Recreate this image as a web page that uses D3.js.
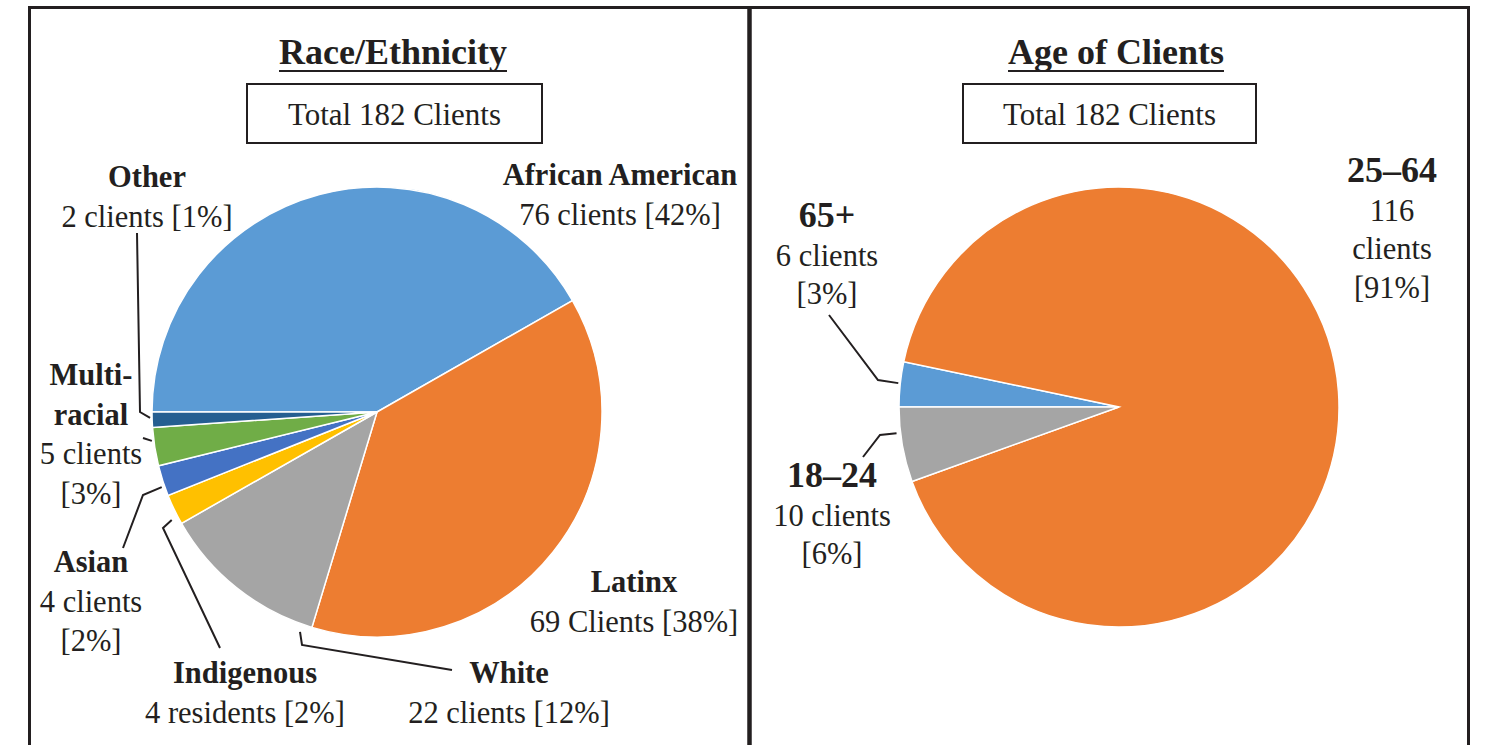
<!DOCTYPE html>
<html>
<head>
<meta charset="utf-8">
<script src="https://cdn.jsdelivr.net/npm/d3@7"></script>
<style>
  body { margin: 0; background: #fff; }
  svg text { font-family: "Liberation Serif", "Times New Roman", serif; fill: #231f20; }
</style>
</head>
<body>
<div id="chart"></div>
<script>
var width = 1489;
var height = 745;
var ink = "#231f20";

// race / ethnicity, clockwise from 9 o'clock
const raceCategories = ["African American", "Latinx", "White", "Indigenous", "Asian", "Multiracial", "Other"];
const raceValues = [76, 69, 22, 4, 4, 5, 2];
const raceNames = [["African American"], ["Latinx"], ["White"], ["Indigenous"], ["Asian"], ["Multi-", "racial"], ["Other"]];
const raceDetails = [["76 clients [42%]"], ["69 Clients [38%]"], ["22 clients [12%]"], ["4 residents [2%]"], ["4 clients", "[2%]"], ["5 clients", "[3%]"], ["2 clients [1%]"]];
const raceColors = ["#5b9bd5", "#ed7d31", "#a5a5a5", "#ffc000", "#4472c4", "#70ad47", "#255e91"];

// age, clockwise from 9 o'clock (slice drawn for 166 although its label reads 116)
const ageCategories = ["65+", "25–64", "18–24"];
const ageValues = [6, 166, 10];
const ageNames = [["65+"], ["25–64"], ["18–24"]];
const ageDetails = [["6 clients", "[3%]"], ["116", "clients", "[91%]"], ["10 clients", "[6%]"]];
const ageColors = ["#5b9bd5", "#ed7d31", "#a5a5a5"];

const totalLabel = "Total 182 Clients";

// label placement (center x, first baseline) and leader paths
var raceLayout = [
  {x: 620, y: 185},
  {x: 634, y: 592},
  {x: 509, y: 683, leader: {pts: [[452, 670], [302, 645]], t: 0.057, gap: 8}},
  {x: 245, y: 683, leader: {pts: [[220, 648], [163, 528]], t: 0.24, gap: 7}},
  {x: 91, y: 572, leader: {pts: [[123, 548], [143, 495]], t: 0.32, gap: 3}},
  {x: 91, y: 385, leader: {pts: [[143, 438]], t: 0.66, gap: 2}},
  {x: 147, y: 187, leader: {pts: [[137, 233], [140, 412]], t: 0.62, gap: 2}}
];
var ageLayout = [
  {x: 827, y: 227, leader: {pts: [[829, 315], [878, 380]], t: 0.52, gap: 2}},
  {x: 1392, y: 182},
  {x: 832, y: 487, leader: {pts: [[863, 457], [880, 435]], t: 0.66, gap: 4}}
];

var svg = d3.select("#chart")
  .append("svg")
  .attr("width", width)
  .attr("height", height);

// frame
var frame = svg.append("g").attr("stroke", ink).attr("fill", "none");
frame.append("line").attr("x1", 28).attr("x2", 1470).attr("y1", 7.5).attr("y2", 7.5).attr("stroke-width", 3);
frame.append("line").attr("x1", 29.5).attr("x2", 29.5).attr("y1", 6).attr("y2", height).attr("stroke-width", 3);
frame.append("line").attr("x1", 749.5).attr("x2", 749.5).attr("y1", 6).attr("y2", height).attr("stroke-width", 4.5);
frame.append("line").attr("x1", 1468.5).attr("x2", 1468.5).attr("y1", 6).attr("y2", height).attr("stroke-width", 3);

function drawPanel(opts) {
  var g = svg.append("g");

  // title + underline
  var title = g.append("text")
    .attr("x", opts.titleX)
    .attr("y", 64)
    .attr("text-anchor", "middle")
    .attr("font-size", 36)
    .attr("font-weight", "bold")
    .text(opts.title);
  var bb = title.node().getBBox();
  g.append("line")
    .attr("x1", bb.x).attr("x2", bb.x + bb.width)
    .attr("y1", 71).attr("y2", 71)
    .attr("stroke", ink).attr("stroke-width", 2);

  // total box
  g.append("rect")
    .attr("x", opts.box[0]).attr("y", 84)
    .attr("width", opts.box[1] - opts.box[0]).attr("height", 59)
    .attr("fill", "none").attr("stroke", ink).attr("stroke-width", 2);
  g.append("text")
    .attr("x", (opts.box[0] + opts.box[1]) / 2)
    .attr("y", 125)
    .attr("text-anchor", "middle")
    .attr("font-size", 31)
    .text(totalLabel);

  var pie = d3.pie().sort(null).startAngle(-Math.PI / 2).endAngle(3 * Math.PI / 2);
  var arcs = pie(opts.values);
  var arc = d3.arc().innerRadius(0).outerRadius(opts.r);

  var pg = g.append("g").attr("transform", "translate(" + opts.cx + "," + opts.cy + ")");
  pg.selectAll("path")
    .data(arcs)
    .enter().append("path")
    .attr("d", arc)
    .attr("fill", (d, i) => opts.colors[i])
    .attr("stroke", "#fff")
    .attr("stroke-width", 1.5);

  // labels
  arcs.forEach(function(a, i) {
    var lay = opts.layout[i];
    var lines = opts.names[i].map(s => ({s: s, bold: true}))
      .concat(opts.details[i].map(s => ({s: s, bold: false})));
    var t = g.append("text").attr("text-anchor", "middle");
    lines.forEach(function(l, k) {
      t.append("tspan")
        .attr("x", lay.x)
        .attr("y", lay.y + k * opts.lineH)
        .attr("font-size", l.bold ? opts.boldSize : opts.textSize)
        .attr("font-weight", l.bold ? "bold" : "normal")
        .text(l.s);
    });

    if (lay.leader) {
      var ang = a.startAngle + lay.leader.t * (a.endAngle - a.startAngle);
      var rr = opts.r + lay.leader.gap;
      var anchor = [opts.cx + rr * Math.sin(ang), opts.cy - rr * Math.cos(ang)];
      var pts = lay.leader.pts.concat([anchor]);
      g.append("path")
        .attr("d", d3.line()(pts))
        .attr("fill", "none")
        .attr("stroke", ink)
        .attr("stroke-width", 2);
    }
  });
}

drawPanel({
  title: "Race/Ethnicity", titleX: 393, box: [247, 542],
  cx: 377, cy: 412, r: 225,
  values: raceValues, colors: raceColors,
  names: raceNames, details: raceDetails, layout: raceLayout,
  boldSize: 30.5, textSize: 30.5, lineH: 39.5
});

drawPanel({
  title: "Age of Clients", titleX: 1116, box: [963, 1256],
  cx: 1119, cy: 407, r: 220,
  values: ageValues, colors: ageColors,
  names: ageNames, details: ageDetails, layout: ageLayout,
  boldSize: 36, textSize: 30.5, lineH: 38.5
});
</script>
</body>
</html>
